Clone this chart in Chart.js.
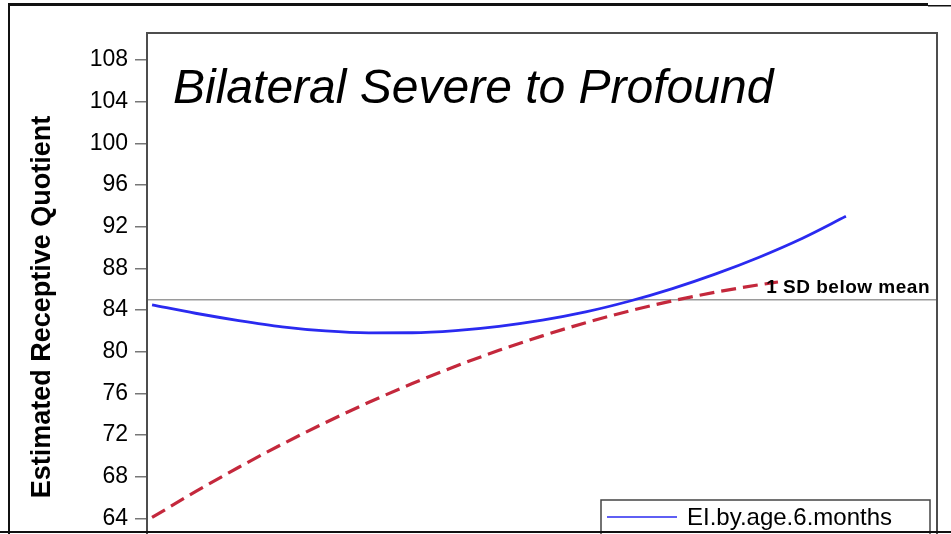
<!DOCTYPE html>
<html>
<head>
<meta charset="utf-8">
<script src="https://cdn.jsdelivr.net/npm/chart.js@4/dist/chart.umd.min.js"></script>
<style>
  html, body { margin: 0; padding: 0; background: #fff; overflow: hidden; width: 951px; height: 534px; }
  canvas { display: block; }
</style>
</head>
<body>
<canvas id="c" width="951" height="620"></canvas>
<script>
// Age in months for each fitted curve
const ageBlue = [12, 15, 18, 21, 24, 27, 30, 33, 36, 39, 42, 45, 48, 51, 54, 57, 60];
const eiByAge6 = [84.5, 83.7, 83.0, 82.4, 82.0, 81.82, 81.83, 82.04, 82.45, 83.04, 83.83, 84.85, 86.07, 87.48, 89.08, 90.9, 93.0];

const ageRed = [12, 15, 18, 21, 24, 27, 30, 33, 36, 39, 42, 45, 48, 51, 54, 55.3];
const eiAfter6 = [64.1, 66.57, 68.92, 71.13, 73.21, 75.15, 76.95, 78.61, 80.14, 81.53, 82.79, 83.91, 84.89, 85.73, 86.43, 86.7];

const yTicks = [64, 68, 72, 76, 80, 84, 88, 92, 96, 100, 104, 108];
const sdBelowMean = 85;
const xRange = [11.65, 66.3];
const yRange = [58, 110.6];

const seriesLabels = ['EI.by.age.6.months', 'EI.after.age.6.months'];
const chartTitle = 'Bilateral Severe to Profound';
const yTitle = 'Estimated Receptive Quotient';
const refLabel = '1 SD below mean';

const FONT = '"Liberation Sans", Arial, Helvetica, sans-serif';
const BLUE = '#2a2af0';
const RED = '#c4283c';

const decor = {
  id: 'decor',
  beforeDraw(chart) {
    const { ctx, width, height } = chart;
    ctx.save();
    ctx.fillStyle = '#fff';
    ctx.fillRect(0, 0, width, height);
    ctx.restore();
  },
  afterDatasetsDraw(chart) {
    const { ctx, chartArea: a, scales: { y } } = chart;
    ctx.save();

    // plot frame
    ctx.strokeStyle = '#4d4d4d';
    ctx.lineWidth = 2;
    ctx.strokeRect(a.left, a.top, a.right - a.left, a.bottom - a.top);

    // panel title
    ctx.fillStyle = '#000';
    ctx.textAlign = 'left';
    ctx.textBaseline = 'alphabetic';
    ctx.font = 'italic 48px ' + FONT;
    ctx.fillText(chartTitle, a.left + 26, a.top + 70);

    // reference line label
    ctx.font = 'bold 19px ' + FONT;
    ctx.letterSpacing = '0.5px';
    ctx.textAlign = 'right';
    ctx.fillText(refLabel, a.right - 7, y.getPixelForValue(sdBelowMean) - 7);
    ctx.letterSpacing = '0px';

    // legend box inside the plot, bottom right
    const lx = a.right - 336, lw = 329, ly = a.bottom - 81, rowH = 27;
    ctx.fillStyle = '#fff';
    ctx.fillRect(lx, ly, lw, rowH * 2 + 8);
    ctx.strokeStyle = '#444';
    ctx.lineWidth = 1.5;
    ctx.strokeRect(lx, ly, lw, rowH * 2 + 8);
    chart.data.datasets.slice(0, 2).forEach((ds, i) => {
      const cy = ly + 17 + i * rowH;
      ctx.beginPath();
      ctx.setLineDash(ds.borderDash || []);
      ctx.strokeStyle = ds.borderColor;
      ctx.lineWidth = i === 0 ? 1.6 : 2.4;
      ctx.moveTo(lx + 6, cy);
      ctx.lineTo(lx + 76, cy);
      ctx.stroke();
      ctx.setLineDash([]);
      ctx.fillStyle = '#000';
      ctx.font = '24px ' + FONT;
      ctx.textAlign = 'left';
      ctx.textBaseline = 'middle';
      ctx.fillText(ds.label, lx + 86, cy + 1);
    });
    ctx.restore();
  },
  afterDraw(chart) {
    const { ctx } = chart;
    ctx.save();
    ctx.fillStyle = '#111';
    ctx.fillRect(8, 3, 920, 3);      // top rule
    ctx.fillRect(928, 5, 23, 1.5);   // thin continuation
    ctx.fillRect(8, 3, 2, 531);      // left rule
    ctx.fillRect(0, 531, 951, 2);    // bottom rule
    ctx.restore();
  }
};

new Chart(document.getElementById('c'), {
  type: 'line',
  data: {
    datasets: [
      {
        label: seriesLabels[0],
        data: ageBlue.map((x, i) => ({ x, y: eiByAge6[i] })),
        borderColor: BLUE,
        borderWidth: 2.8,
        pointRadius: 0,
        cubicInterpolationMode: 'monotone',
        fill: false,
        order: 1
      },
      {
        label: seriesLabels[1],
        data: ageRed.map((x, i) => ({ x, y: eiAfter6[i] })),
        borderColor: RED,
        borderWidth: 3.2,
        borderDash: [15, 7],
        pointRadius: 0,
        cubicInterpolationMode: 'monotone',
        fill: false,
        order: 2
      },
      {
        label: refLabel,
        data: [{ x: xRange[0], y: sdBelowMean }, { x: xRange[1], y: sdBelowMean }],
        borderColor: '#9a9a9a',
        borderWidth: 1.5,
        pointRadius: 0,
        fill: false,
        order: 3
      }
    ]
  },
  options: {
    responsive: false,
    animation: false,
    events: [],
    layout: { padding: { top: 33, right: 14, bottom: 39, left: 0 } },
    plugins: { legend: { display: false }, tooltip: { enabled: false } },
    scales: {
      x: { type: 'linear', display: false, min: xRange[0], max: xRange[1] },
      y: {
        type: 'linear',
        min: yRange[0],
        max: yRange[1],
        afterFit(s) { s.width = 147; },
        afterBuildTicks(s) { s.ticks = yTicks.map(v => ({ value: v })); },
        border: { display: false },
        grid: { drawOnChartArea: false, drawTicks: true, tickLength: 12, color: '#777', lineWidth: 1.5 },
        ticks: { color: '#000', padding: 7, autoSkip: false, font: { family: FONT, size: 23 } },
        title: {
          display: true,
          text: yTitle,
          color: '#000',
          font: { family: FONT, size: 27, weight: 'bold' },
          padding: { top: 26, bottom: 0 }
        }
      }
    }
  },
  plugins: [decor]
});
</script>
</body>
</html>
